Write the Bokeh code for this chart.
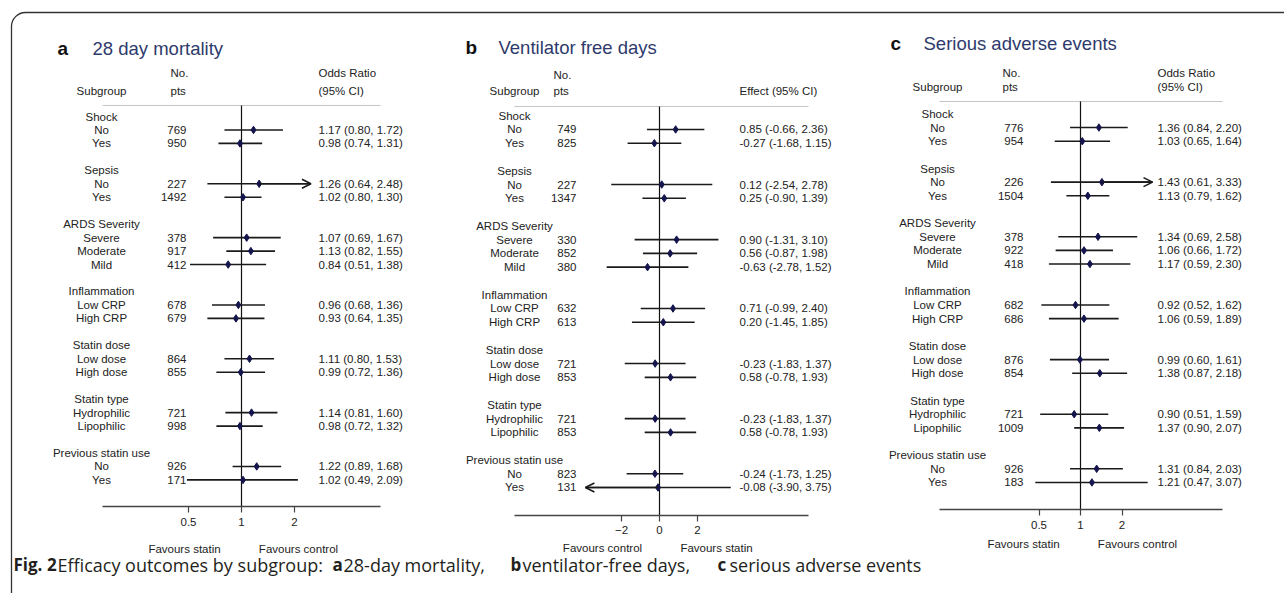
import math
from bokeh.plotting import figure
from bokeh.models import (Range1d, LogScale, LogAxis, LinearAxis, FixedTicker,
                          NumeralTickFormatter, BasicTickFormatter, ColumnDataSource,
                          Arrow, OpenHead)
from bokeh.core.properties import value
from bokeh.embed import file_html
from bokeh.resources import INLINE

# ---------------- data ----------------
groups = ["Shock", "Sepsis", "ARDS Severity", "Inflammation", "Statin dose",
          "Statin type", "Previous statin use"]
levels = [["No", "Yes"], ["No", "Yes"], ["Severe", "Moderate", "Mild"],
          ["Low CRP", "High CRP"], ["Low dose", "High dose"],
          ["Hydrophilic", "Lipophilic"], ["No", "Yes"]]

# a: 28 day mortality (odds ratio)
n_a = [769, 950, 227, 1492, 378, 917, 412, 678, 679, 864, 855, 721, 998, 926, 171]
or_a = [1.17, 0.98, 1.26, 1.02, 1.07, 1.13, 0.84, 0.96, 0.93, 1.11, 0.99, 1.14, 0.98, 1.22, 1.02]
lo_a = [0.80, 0.74, 0.64, 0.80, 0.69, 0.82, 0.51, 0.68, 0.64, 0.80, 0.72, 0.81, 0.72, 0.89, 0.49]
hi_a = [1.72, 1.31, 2.48, 1.30, 1.67, 1.55, 1.38, 1.36, 1.35, 1.53, 1.36, 1.60, 1.32, 1.68, 2.09]

# b: ventilator free days (effect)
n_b = [749, 825, 227, 1347, 330, 852, 380, 632, 613, 721, 853, 721, 853, 823, 131]
eff_b = [0.85, -0.27, 0.12, 0.25, 0.90, 0.56, -0.63, 0.71, 0.20, -0.23, 0.58, -0.23, 0.58, -0.24, -0.08]
lo_b = [-0.66, -1.68, -2.54, -0.90, -1.31, -0.87, -2.78, -0.99, -1.45, -1.83, -0.78, -1.83, -0.78, -1.73, -3.90]
hi_b = [2.36, 1.15, 2.78, 1.39, 3.10, 1.98, 1.52, 2.40, 1.85, 1.37, 1.93, 1.37, 1.93, 1.25, 3.75]

# c: serious adverse events (odds ratio)
n_c = [776, 954, 226, 1504, 378, 922, 418, 682, 686, 876, 854, 721, 1009, 926, 183]
or_c = [1.36, 1.03, 1.43, 1.13, 1.34, 1.06, 1.17, 0.92, 1.06, 0.99, 1.38, 0.90, 1.37, 1.31, 1.21]
lo_c = [0.84, 0.65, 0.61, 0.79, 0.69, 0.66, 0.59, 0.52, 0.59, 0.60, 0.87, 0.51, 0.90, 0.84, 0.47]
hi_c = [2.20, 1.64, 3.33, 1.62, 2.58, 1.72, 2.30, 1.62, 1.89, 1.61, 2.18, 1.59, 2.07, 2.03, 3.07]

ticks_a = [0.5, 1, 2]
ticks_b = [-2, 0, 2]
ticks_c = [0.5, 1, 2]

caption = [("Fig. 2", "bold"), ("Efficacy outcomes by subgroup:", "normal"),
           ("a", "bold"), ("28-day mortality,", "normal"),
           ("b", "bold"), ("ventilator-free days,", "normal"),
           ("c", "bold"), ("serious adverse events", "normal")]

# ---------------- layout ----------------
W, H = 1284, 593
OX, OY = 0, 0
FONT = "Liberation Sans"
TXT = "#222222"
NAVY = "#2e3a6b"

p = figure(width=W, height=H, output_backend="svg", toolbar_location=None,
           x_range=Range1d(OX, OX + W), y_range=Range1d(OY + H, OY),
           min_border=0, x_axis_location=None, y_axis_location=None)
p.outline_line_color = None
p.grid.visible = False
p.background_fill_color = "white"
p.border_fill_color = "white"

# row positions derived from groups
header_rows, level_rows, level_labels = [], [], []
r = 0
for g, levs in zip(groups, levels):
    header_rows.append(r)
    for j, lv in enumerate(levs):
        level_rows.append(r + 1 + j)
        level_labels.append(lv)
    r += len(levs) + 2
axis_row = level_rows[-1] + 2

panels = [
    dict(k="a", letter="a", title="28 day mortality", est=or_a, lo=lo_a, hi=hi_a, n=n_a,
         log=True, null=1, null_px=241, ppu=53, y0=116, dy=13.46, ticks=ticks_a,
         sub_x=101, no_x=170, n_x=186, est_x=318, hdr=["Odds Ratio", "(95% CI)"],
         r_no=-3.2, r_pts=-1.93, r_sep=-0.82, r_title=-5.05, letter_x=57, title_x=92,
         bounds_px=(102, 380), fav=["Favours statin", "Favours control"], r_fav=32.1,
         clip_hi=2.4, clip_lo=None),
    dict(k="b", letter="b", title="Ventilator free days", est=eff_b, lo=lo_b, hi=hi_b, n=n_b,
         log=False, null=0, null_px=659, ppu=19, y0=115.2, dy=13.77, ticks=ticks_b,
         sub_x=514, no_x=553, n_x=576, est_x=739, hdr=[None, "Effect (95% CI)"],
         r_no=-2.92, r_pts=-1.76, r_sep=-0.67, r_title=-4.95, letter_x=465, title_x=498,
         bounds_px=(514, 808), fav=["Favours control", "Favours statin"], r_fav=31.4,
         clip_hi=None, clip_lo=-3.5),
    dict(k="c", letter="c", title="Serious adverse events", est=or_c, lo=lo_c, hi=hi_c, n=n_c,
         log=True, null=1, null_px=1080, ppu=41.5, y0=113.4, dy=13.65, ticks=ticks_c,
         sub_x=937, no_x=1002, n_x=1023, est_x=1157, hdr=["Odds Ratio", "(95% CI)"],
         r_no=-2.96, r_pts=-1.99, r_sep=-0.91, r_title=-5.16, letter_x=890, title_x=923,
         bounds_px=(939, 1222), fav=["Favours statin", "Favours control"], r_fav=31.5,
         clip_hi=3.2, clip_lo=None),
]


def px_to_data(c, px):
    u = (px - c["null_px"]) / c["ppu"]
    return c["null"] * 2 ** u if c["log"] else c["null"] + u


def txt(xs, ys, texts, yname, align="left", size="11.5px", color=TXT, font=FONT, style="normal"):
    p.text(x=xs, y=ys, text=texts, y_range_name=yname, text_align=align,
           text_baseline="middle", text_font_size=size, text_color=color,
           text_font=value(font), text_font_style=style)


for c in panels:
    xn, yn = "x" + c["k"], "y" + c["k"]
    p.extra_x_ranges[xn] = Range1d(px_to_data(c, OX), px_to_data(c, OX + W))
    if c["log"]:
        p.extra_x_scales[xn] = LogScale()
    p.extra_y_ranges[yn] = Range1d((OY + H - c["y0"]) / c["dy"], (OY - c["y0"]) / c["dy"])

    # title
    txt([c["letter_x"]], [c["r_title"]], [c["letter"]], yn, size="19px", color="#111111",
        style="bold")
    txt([c["title_x"]], [c["r_title"]], [c["title"]], yn, size="18.5px", color=NAVY)

    # headers
    txt([c["sub_x"]], [c["r_pts"]], ["Subgroup"], yn, align="center")
    txt([c["no_x"]], [c["r_no"]], ["No."], yn)
    txt([c["no_x"]], [c["r_pts"]], ["pts"], yn)
    if c["hdr"][0]:
        txt([c["est_x"]], [c["r_no"]], [c["hdr"][0]], yn)
    txt([c["est_x"]], [c["r_pts"]], [c["hdr"][1]], yn)

    # labels
    txt([c["sub_x"]] * len(groups), header_rows, groups, yn, align="center")
    txt([c["sub_x"]] * len(level_labels), level_rows, level_labels, yn, align="center")
    txt([c["n_x"]] * len(c["n"]), level_rows, [str(v) for v in c["n"]], yn,
        align="right", size="11.5px")
    ci_txt = [f"{e:.2f} ({l:.2f}, {h:.2f})" for e, l, h in zip(c["est"], c["lo"], c["hi"])]
    txt([c["est_x"]] * len(ci_txt), level_rows, ci_txt, yn, size="11.5px")

    b0, b1 = px_to_data(c, c["bounds_px"][0]), px_to_data(c, c["bounds_px"][1])

    # header separator
    p.segment(x0=[b0], x1=[b1], y0=[c["r_sep"]], y1=[c["r_sep"]], x_range_name=xn,
              y_range_name=yn, line_color="#c4c4c4", line_width=1)
    # null line
    p.segment(x0=[c["null"]], x1=[c["null"]], y0=[c["r_sep"]], y1=[axis_row],
              x_range_name=xn, y_range_name=yn, line_color="#111111", line_width=1.2)

    src = ColumnDataSource(dict(y=level_rows, est=c["est"], lo=c["lo"], hi=c["hi"]))
    p.segment(x0="lo", x1="hi", y0="y", y1="y", source=src, x_range_name=xn,
              y_range_name=yn, line_color="#1a1a1a", line_width=1.6)
    p.scatter(x="est", y="y", source=src, x_range_name=xn, y_range_name=yn,
              marker="diamond", size=7.5, color="#15154d")

    # truncated intervals get an arrow head
    ar = dict(y=[], s=[], e=[])
    for yy, e, lo, hi in zip(level_rows, c["est"], c["lo"], c["hi"]):
        if c["clip_hi"] is not None and hi > c["clip_hi"]:
            ar["y"].append(yy); ar["s"].append(e); ar["e"].append(hi)
        if c["clip_lo"] is not None and lo < c["clip_lo"]:
            ar["y"].append(yy); ar["s"].append(e); ar["e"].append(lo)
    if ar["y"]:
        p.add_layout(Arrow(end=OpenHead(size=9, line_width=1.6, line_color="#1a1a1a"),
                           x_start="s", y_start="y", x_end="e", y_end="y",
                           source=ColumnDataSource(ar), x_range_name=xn, y_range_name=yn,
                           line_width=1.6, line_color="#1a1a1a"))

    # axis
    AxisCls = LogAxis if c["log"] else LinearAxis
    fmt = NumeralTickFormatter(format="0.[0]") if c["log"] else BasicTickFormatter()
    ax = AxisCls(x_range_name=xn, y_range_name=yn, fixed_location=axis_row,
                 ticker=FixedTicker(ticks=c["ticks"], minor_ticks=[]), formatter=fmt,
                 bounds=(b0, b1))
    ax.axis_line_color = "#444444"
    ax.axis_line_width = 1.3
    ax.major_tick_line_color = "#444444"
    ax.major_tick_line_width = 1.2
    ax.major_tick_in = 0
    ax.major_tick_out = 6
    ax.minor_tick_line_color = None
    ax.major_label_standoff = 5
    ax.major_label_text_font = FONT
    ax.major_label_text_font_size = "11.5px"
    ax.major_label_text_color = TXT
    p.add_layout(ax, "below")

    # favours labels
    txt([c["null_px"] - 57, c["null_px"] + 57], [c["r_fav"]] * 2, c["fav"], yn,
        align="center", size="11.5px")

# outer rounded frame
p.quad(left=[11], right=[OX + W + 60], top=[12], bottom=[OY + H + 60],
       fill_color=None, line_color="#333333", line_width=1.3, border_radius=14)

# caption
cap_x = [13, 57, 332, 343, 510, 522, 717, 729]
cap_size = ["17px" if s == "bold" else "18px" for _, s in caption]
p.text(x=cap_x, y=[564] * len(caption), text=[t for t, _ in caption],
       text_font_style=[s for _, s in caption], text_font=value("Open Sans"),
       text_font_size=cap_size, text_color="#231f20", text_baseline="middle",
       text_align="left")

open("out.html", "w").write(file_html(p, INLINE))
